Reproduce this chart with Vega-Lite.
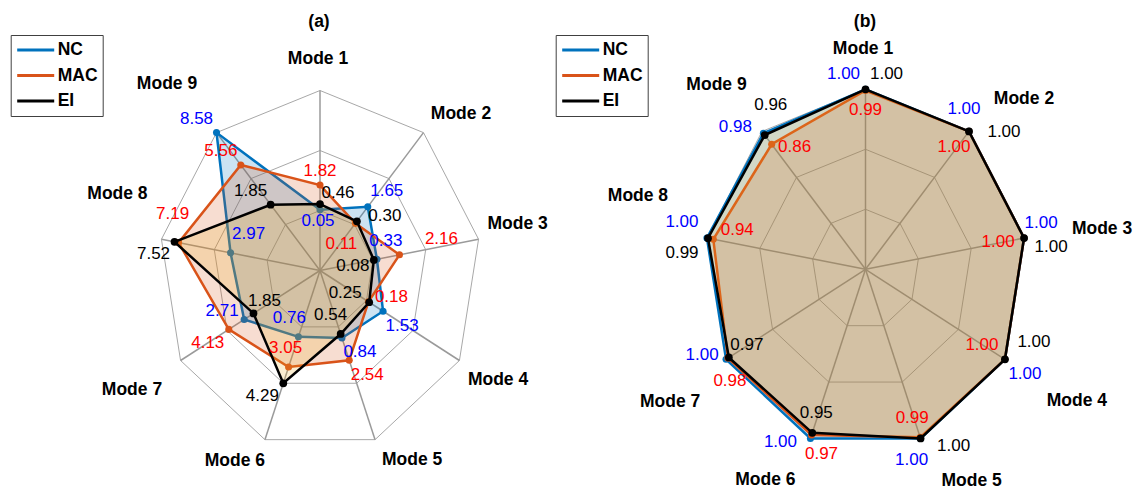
{
"$schema":"https://vega.github.io/schema/vega-lite/v6.json",
"padding":{"left":0,"top":12,"right":0,"bottom":0},
"background":"white",
"bounds":"flush",
"spacing":0,
"config":{"view":{"stroke":null},"font":"Liberation Sans","text":{"font":"Liberation Sans","fontSize":17,"align":"center","baseline":"middle"}},
"datasets":{
"vals":[
{"p":"a","m":1,"s":"NC","v":0.05},{"p":"a","m":1,"s":"MAC","v":1.82},{"p":"a","m":1,"s":"EI","v":0.46},
{"p":"a","m":2,"s":"NC","v":1.65},{"p":"a","m":2,"s":"MAC","v":0.11},{"p":"a","m":2,"s":"EI","v":0.30},
{"p":"a","m":3,"s":"NC","v":0.33},{"p":"a","m":3,"s":"MAC","v":2.16},{"p":"a","m":3,"s":"EI","v":0.08},
{"p":"a","m":4,"s":"NC","v":1.53},{"p":"a","m":4,"s":"MAC","v":0.18},{"p":"a","m":4,"s":"EI","v":0.25},
{"p":"a","m":5,"s":"NC","v":0.84},{"p":"a","m":5,"s":"MAC","v":2.54},{"p":"a","m":5,"s":"EI","v":0.54},
{"p":"a","m":6,"s":"NC","v":0.76},{"p":"a","m":6,"s":"MAC","v":3.05},{"p":"a","m":6,"s":"EI","v":4.29},
{"p":"a","m":7,"s":"NC","v":2.71},{"p":"a","m":7,"s":"MAC","v":4.13},{"p":"a","m":7,"s":"EI","v":1.85},
{"p":"a","m":8,"s":"NC","v":2.97},{"p":"a","m":8,"s":"MAC","v":7.19},{"p":"a","m":8,"s":"EI","v":7.52},
{"p":"a","m":9,"s":"NC","v":8.58},{"p":"a","m":9,"s":"MAC","v":5.56},{"p":"a","m":9,"s":"EI","v":1.85},
{"p":"b","m":1,"s":"NC","v":1.00},{"p":"b","m":1,"s":"MAC","v":0.99},{"p":"b","m":1,"s":"EI","v":1.00},
{"p":"b","m":2,"s":"NC","v":1.00},{"p":"b","m":2,"s":"MAC","v":1.00},{"p":"b","m":2,"s":"EI","v":1.00},
{"p":"b","m":3,"s":"NC","v":1.00},{"p":"b","m":3,"s":"MAC","v":1.00},{"p":"b","m":3,"s":"EI","v":1.00},
{"p":"b","m":4,"s":"NC","v":1.00},{"p":"b","m":4,"s":"MAC","v":1.00},{"p":"b","m":4,"s":"EI","v":1.00},
{"p":"b","m":5,"s":"NC","v":1.00},{"p":"b","m":5,"s":"MAC","v":0.99},{"p":"b","m":5,"s":"EI","v":1.00},
{"p":"b","m":6,"s":"NC","v":1.00},{"p":"b","m":6,"s":"MAC","v":0.97},{"p":"b","m":6,"s":"EI","v":0.95},
{"p":"b","m":7,"s":"NC","v":1.00},{"p":"b","m":7,"s":"MAC","v":0.98},{"p":"b","m":7,"s":"EI","v":0.97},
{"p":"b","m":8,"s":"NC","v":1.00},{"p":"b","m":8,"s":"MAC","v":0.94},{"p":"b","m":8,"s":"EI","v":0.99},
{"p":"b","m":9,"s":"NC","v":0.98},{"p":"b","m":9,"s":"MAC","v":0.86},{"p":"b","m":9,"s":"EI","v":0.96}
],
"modes":[
{"m":1,"name":"Mode 1","lv":[1,2,3]},{"m":2,"name":"Mode 2","lv":[1,2,3]},{"m":3,"name":"Mode 3","lv":[1,2,3]},
{"m":4,"name":"Mode 4","lv":[1,2,3]},{"m":5,"name":"Mode 5","lv":[1,2,3]},{"m":6,"name":"Mode 6","lv":[1,2,3]},
{"m":7,"name":"Mode 7","lv":[1,2,3]},{"m":8,"name":"Mode 8","lv":[1,2,3]},{"m":9,"name":"Mode 9","lv":[1,2,3]}
]
},
"resolve":{"scale":{"x":"independent","y":"independent","color":"independent","fill":"independent"},"legend":{"color":"independent"}},
"hconcat":[
{
"title":{"text":"(a)","fontSize":17.5,"fontWeight":"bold","font":"Liberation Sans","anchor":"middle","dx":44,"offset":4,"color":"black"},
"width":550,"height":459,
"encoding":{
"x":{"field":"x","type":"quantitative","scale":{"domain":[-1.98758,1.42857],"nice":false,"zero":false},"axis":null},
"y":{"field":"y","type":"quantitative","scale":{"domain":[-1.2361,1.3139],"nice":false,"zero":false},"axis":null}
},
"layer":[
{"data":{"name":"modes"},
"transform":[{"flatten":["lv"]},{"calculate":"datum.lv/3*sin((datum.m-1)*2*PI/9)","as":"x"},{"calculate":"datum.lv/3*cos((datum.m-1)*2*PI/9)","as":"y"}],
"layer":[
{"mark":{"type":"line","interpolate":"linear-closed","color":"#a8a8a8","strokeWidth":1},"encoding":{"detail":{"field":"lv"},"order":{"field":"m"}}},
{"transform":[{"filter":"datum.lv==3"}],"mark":{"type":"rule","color":"#9a9a9a","strokeWidth":1.5},"encoding":{"x2":{"datum":0},"y2":{"datum":0}}},
{"transform":[{"filter":"datum.lv==3"}],"encoding":{"text":{"field":"name"}},"layer":[
{"transform":[{"filter":"datum.m==1"}],"mark":{"type":"text","fontWeight":"bold","fontSize":17.5,"dx":-2,"dy":-31.5}},
{"transform":[{"filter":"datum.m==2"}],"mark":{"type":"text","fontWeight":"bold","fontSize":17.5,"dx":37.5,"dy":-18.6}},
{"transform":[{"filter":"datum.m==3"}],"mark":{"type":"text","fontWeight":"bold","fontSize":17.5,"dx":39.1,"dy":-15.2}},
{"transform":[{"filter":"datum.m==4"}],"mark":{"type":"text","fontWeight":"bold","fontSize":17.5,"dx":38.6,"dy":19.8}},
{"transform":[{"filter":"datum.m==5"}],"mark":{"type":"text","fontWeight":"bold","fontSize":17.5,"dx":37,"dy":20}},
{"transform":[{"filter":"datum.m==6"}],"mark":{"type":"text","fontWeight":"bold","fontSize":17.5,"dx":-30,"dy":21}},
{"transform":[{"filter":"datum.m==7"}],"mark":{"type":"text","fontWeight":"bold","fontSize":17.5,"dx":-48.6,"dy":29.8}},
{"transform":[{"filter":"datum.m==8"}],"mark":{"type":"text","fontWeight":"bold","fontSize":17.5,"dx":-44,"dy":-45}},
{"transform":[{"filter":"datum.m==9"}],"mark":{"type":"text","fontWeight":"bold","fontSize":17.5,"dx":-49.5,"dy":-48.6}}
]}
]},
{"data":{"name":"vals"},
"transform":[{"filter":"datum.p=='a'"},{"calculate":"(datum.v+4.29)/12.87","as":"f"},{"calculate":"datum.f*sin((datum.m-1)*2*PI/9)","as":"x"},{"calculate":"datum.f*cos((datum.m-1)*2*PI/9)","as":"y"}],
"layer":[
{"transform":[{"filter":"datum.s=='NC'"}],"mark":{"type":"line","interpolate":"linear-closed","fill":"#0072BD","fillOpacity":0.2,"strokeWidth":2.5},
 "encoding":{"order":{"field":"m"},"color":{"field":"s","type":"nominal","scale":{"domain":["NC","MAC","EI"],"range":["#0072BD","#D95319","#000000"]},
 "legend":{"orient":"none","legendX":10.7,"legendY":1,"title":null,"symbolType":"stroke","symbolSize":1369,"symbolStrokeWidth":3,"clipHeight":20,"rowPadding":5.5,"padding":5,"labelFontSize":17.5,"labelFontWeight":"bold","labelFont":"Liberation Sans","labelColor":"black","strokeColor":"#404040","fillColor":"white","labelOffset":2,"symbolOffset":0}}}},
{"transform":[{"filter":"datum.s=='NC'"}],"mark":{"type":"point","filled":true,"color":"#0072BD","size":50,"opacity":1}},
{"transform":[{"filter":"datum.s=='MAC'"}],"mark":{"type":"line","interpolate":"linear-closed","fill":"#D95319","fillOpacity":0.2,"strokeWidth":2.5},
 "encoding":{"order":{"field":"m"},"color":{"field":"s","type":"nominal","scale":{"domain":["NC","MAC","EI"],"range":["#0072BD","#D95319","#000000"]}}}},
{"transform":[{"filter":"datum.s=='MAC'"}],"mark":{"type":"point","filled":true,"color":"#D95319","size":50,"opacity":1}},
{"transform":[{"filter":"datum.s=='EI'"}],"mark":{"type":"line","interpolate":"linear-closed","fill":"#EDB120","fillOpacity":0.2,"strokeWidth":2.5},
 "encoding":{"order":{"field":"m"},"color":{"field":"s","type":"nominal","scale":{"domain":["NC","MAC","EI"],"range":["#0072BD","#D95319","#000000"]}}}},
{"transform":[{"filter":"datum.s=='EI'"}],"mark":{"type":"point","filled":true,"color":"#000000","size":60,"opacity":1}},
{"encoding":{"text":{"field":"v","type":"quantitative","format":".2f"},"fill":{"field":"s","type":"nominal","scale":{"domain":["NC","MAC","EI"],"range":["#0000FF","#FF0000","#000000"]},"legend":null}},
"layer":[
{"transform":[{"filter":"datum.s=='NC'&&datum.m==1"}],"mark":{"type":"text","dx":-2,"dy":11}},
{"transform":[{"filter":"datum.s=='NC'&&datum.m==2"}],"mark":{"type":"text","dx":19,"dy":-16}},
{"transform":[{"filter":"datum.s=='NC'&&datum.m==3"}],"mark":{"type":"text","dx":9,"dy":-18}},
{"transform":[{"filter":"datum.s=='NC'&&datum.m==4"}],"mark":{"type":"text","dx":19,"dy":15}},
{"transform":[{"filter":"datum.s=='NC'&&datum.m==5"}],"mark":{"type":"text","dx":18,"dy":14}},
{"transform":[{"filter":"datum.s=='NC'&&datum.m==6"}],"mark":{"type":"text","dx":-9,"dy":-19}},
{"transform":[{"filter":"datum.s=='NC'&&datum.m==7"}],"mark":{"type":"text","dx":-22,"dy":-8}},
{"transform":[{"filter":"datum.s=='NC'&&datum.m==8"}],"mark":{"type":"text","dx":18,"dy":-19}},
{"transform":[{"filter":"datum.s=='NC'&&datum.m==9"}],"mark":{"type":"text","dx":-20,"dy":-14}},
{"transform":[{"filter":"datum.s=='MAC'&&datum.m==1"}],"mark":{"type":"text","dx":0,"dy":-14}},
{"transform":[{"filter":"datum.s=='MAC'&&datum.m==2"}],"mark":{"type":"text","dx":-14,"dy":21}},
{"transform":[{"filter":"datum.s=='MAC'&&datum.m==3"}],"mark":{"type":"text","dx":42,"dy":-16}},
{"transform":[{"filter":"datum.s=='MAC'&&datum.m==4"}],"mark":{"type":"text","dx":23,"dy":-5}},
{"transform":[{"filter":"datum.s=='MAC'&&datum.m==5"}],"mark":{"type":"text","dx":18,"dy":15}},
{"transform":[{"filter":"datum.s=='MAC'&&datum.m==6"}],"mark":{"type":"text","dx":-3,"dy":-19}},
{"transform":[{"filter":"datum.s=='MAC'&&datum.m==7"}],"mark":{"type":"text","dx":-21,"dy":14}},
{"transform":[{"filter":"datum.s=='MAC'&&datum.m==8"}],"mark":{"type":"text","dx":-6,"dy":-29}},
{"transform":[{"filter":"datum.s=='MAC'&&datum.m==9"}],"mark":{"type":"text","dx":-20,"dy":-14}},
{"transform":[{"filter":"datum.s=='EI'&&datum.m==1"}],"mark":{"type":"text","dx":18,"dy":-11}},
{"transform":[{"filter":"datum.s=='EI'&&datum.m==2"}],"mark":{"type":"text","dx":28,"dy":-5}},
{"transform":[{"filter":"datum.s=='EI'&&datum.m==3"}],"mark":{"type":"text","dx":-21,"dy":6}},
{"transform":[{"filter":"datum.s=='EI'&&datum.m==4"}],"mark":{"type":"text","dx":-24,"dy":-9}},
{"transform":[{"filter":"datum.s=='EI'&&datum.m==5"}],"mark":{"type":"text","dx":-10,"dy":-19}},
{"transform":[{"filter":"datum.s=='EI'&&datum.m==6"}],"mark":{"type":"text","dx":-21,"dy":13}},
{"transform":[{"filter":"datum.s=='EI'&&datum.m==7"}],"mark":{"type":"text","dx":11,"dy":-12}},
{"transform":[{"filter":"datum.s=='EI'&&datum.m==8"}],"mark":{"type":"text","dx":-21,"dy":12}},
{"transform":[{"filter":"datum.s=='EI'&&datum.m==9"}],"mark":{"type":"text","dx":-20,"dy":-14}}
]}
]}
]
},
{
"title":{"text":"(b)","fontSize":17.5,"fontWeight":"bold","font":"Liberation Sans","anchor":"middle","dx":22,"offset":4,"color":"black"},
"width":586,"height":459,
"encoding":{
"x":{"field":"x","type":"quantitative","scale":{"domain":[-1.95963,1.68012],"nice":false,"zero":false},"axis":null},
"y":{"field":"y","type":"quantitative","scale":{"domain":[-1.2428,1.3072],"nice":false,"zero":false},"axis":null}
},
"layer":[
{"data":{"name":"modes"},
"transform":[{"flatten":["lv"]},{"calculate":"datum.lv/3*sin((datum.m-1)*2*PI/9)","as":"x"},{"calculate":"datum.lv/3*cos((datum.m-1)*2*PI/9)","as":"y"}],
"layer":[
{"mark":{"type":"line","interpolate":"linear-closed","color":"#a8a8a8","strokeWidth":1},"encoding":{"detail":{"field":"lv"},"order":{"field":"m"}}},
{"transform":[{"filter":"datum.lv==3"}],"mark":{"type":"rule","color":"#9a9a9a","strokeWidth":1.5},"encoding":{"x2":{"datum":0},"y2":{"datum":0}}},
{"transform":[{"filter":"datum.lv==3"}],"encoding":{"text":{"field":"name"}},"layer":[
{"transform":[{"filter":"datum.m==1"}],"mark":{"type":"text","fontWeight":"bold","fontSize":17.5,"dx":-2.5,"dy":-40}},
{"transform":[{"filter":"datum.m==2"}],"mark":{"type":"text","fontWeight":"bold","fontSize":17.5,"dx":55,"dy":-32}},
{"transform":[{"filter":"datum.m==3"}],"mark":{"type":"text","fontWeight":"bold","fontSize":17.5,"dx":78,"dy":-9}},
{"transform":[{"filter":"datum.m==4"}],"mark":{"type":"text","fontWeight":"bold","fontSize":17.5,"dx":72,"dy":42}},
{"transform":[{"filter":"datum.m==5"}],"mark":{"type":"text","fontWeight":"bold","fontSize":17.5,"dx":51,"dy":42.5}},
{"transform":[{"filter":"datum.m==6"}],"mark":{"type":"text","fontWeight":"bold","fontSize":17.5,"dx":-45,"dy":42}},
{"transform":[{"filter":"datum.m==7"}],"mark":{"type":"text","fontWeight":"bold","fontSize":17.5,"dx":-56,"dy":43}},
{"transform":[{"filter":"datum.m==8"}],"mark":{"type":"text","fontWeight":"bold","fontSize":17.5,"dx":-69,"dy":-42}},
{"transform":[{"filter":"datum.m==9"}],"mark":{"type":"text","fontWeight":"bold","fontSize":17.5,"dx":-45.5,"dy":-46}}
]}
]},
{"data":{"name":"vals"},
"transform":[{"filter":"datum.p=='b'"},{"calculate":"(datum.v+0.5)/1.5","as":"f"},{"calculate":"datum.f*sin((datum.m-1)*2*PI/9)","as":"x"},{"calculate":"datum.f*cos((datum.m-1)*2*PI/9)","as":"y"}],
"layer":[
{"transform":[{"filter":"datum.s=='NC'"}],"mark":{"type":"line","interpolate":"linear-closed","fill":"#0072BD","fillOpacity":0.2,"strokeWidth":2.5},
 "encoding":{"order":{"field":"m"},"color":{"field":"s","type":"nominal","scale":{"domain":["NC","MAC","EI"],"range":["#0072BD","#D95319","#000000"]},
 "legend":{"orient":"none","legendX":5.7,"legendY":1,"title":null,"symbolType":"stroke","symbolSize":1369,"symbolStrokeWidth":3,"clipHeight":20,"rowPadding":5.5,"padding":5,"labelFontSize":17.5,"labelFontWeight":"bold","labelFont":"Liberation Sans","labelColor":"black","strokeColor":"#404040","fillColor":"white","labelOffset":2,"symbolOffset":0}}}},
{"transform":[{"filter":"datum.s=='NC'"}],"mark":{"type":"point","filled":true,"color":"#0072BD","size":50,"opacity":1}},
{"transform":[{"filter":"datum.s=='MAC'"}],"mark":{"type":"line","interpolate":"linear-closed","fill":"#D95319","fillOpacity":0.2,"strokeWidth":2.5},
 "encoding":{"order":{"field":"m"},"color":{"field":"s","type":"nominal","scale":{"domain":["NC","MAC","EI"],"range":["#0072BD","#D95319","#000000"]}}}},
{"transform":[{"filter":"datum.s=='MAC'"}],"mark":{"type":"point","filled":true,"color":"#D95319","size":50,"opacity":1}},
{"transform":[{"filter":"datum.s=='EI'"}],"mark":{"type":"line","interpolate":"linear-closed","fill":"#EDB120","fillOpacity":0.2,"strokeWidth":2.5},
 "encoding":{"order":{"field":"m"},"color":{"field":"s","type":"nominal","scale":{"domain":["NC","MAC","EI"],"range":["#0072BD","#D95319","#000000"]}}}},
{"transform":[{"filter":"datum.s=='EI'"}],"mark":{"type":"point","filled":true,"color":"#000000","size":60,"opacity":1}},
{"encoding":{"text":{"field":"v","type":"quantitative","format":".2f"},"fill":{"field":"s","type":"nominal","scale":{"domain":["NC","MAC","EI"],"range":["#0000FF","#FF0000","#000000"]},"legend":null}},
"layer":[
{"transform":[{"filter":"datum.s=='NC'&&datum.m==1"}],"mark":{"type":"text","dx":-22,"dy":-15}},
{"transform":[{"filter":"datum.s=='NC'&&datum.m==2"}],"mark":{"type":"text","dx":-5,"dy":-22}},
{"transform":[{"filter":"datum.s=='NC'&&datum.m==3"}],"mark":{"type":"text","dx":17,"dy":-15}},
{"transform":[{"filter":"datum.s=='NC'&&datum.m==4"}],"mark":{"type":"text","dx":20,"dy":15}},
{"transform":[{"filter":"datum.s=='NC'&&datum.m==5"}],"mark":{"type":"text","dx":-9,"dy":22}},
{"transform":[{"filter":"datum.s=='NC'&&datum.m==6"}],"mark":{"type":"text","dx":-30,"dy":4}},
{"transform":[{"filter":"datum.s=='NC'&&datum.m==7"}],"mark":{"type":"text","dx":-24,"dy":-4}},
{"transform":[{"filter":"datum.s=='NC'&&datum.m==8"}],"mark":{"type":"text","dx":-25,"dy":-16}},
{"transform":[{"filter":"datum.s=='NC'&&datum.m==9"}],"mark":{"type":"text","dx":-28,"dy":-6}},
{"transform":[{"filter":"datum.s=='MAC'&&datum.m==1"}],"mark":{"type":"text","dx":0,"dy":20}},
{"transform":[{"filter":"datum.s=='MAC'&&datum.m==2"}],"mark":{"type":"text","dx":-15,"dy":16}},
{"transform":[{"filter":"datum.s=='MAC'&&datum.m==3"}],"mark":{"type":"text","dx":-26,"dy":4}},
{"transform":[{"filter":"datum.s=='MAC'&&datum.m==4"}],"mark":{"type":"text","dx":-23,"dy":-14}},
{"transform":[{"filter":"datum.s=='MAC'&&datum.m==5"}],"mark":{"type":"text","dx":-8,"dy":-19}},
{"transform":[{"filter":"datum.s=='MAC'&&datum.m==6"}],"mark":{"type":"text","dx":10,"dy":19}},
{"transform":[{"filter":"datum.s=='MAC'&&datum.m==7"}],"mark":{"type":"text","dx":2,"dy":23}},
{"transform":[{"filter":"datum.s=='MAC'&&datum.m==8"}],"mark":{"type":"text","dx":24,"dy":-9}},
{"transform":[{"filter":"datum.s=='MAC'&&datum.m==9"}],"mark":{"type":"text","dx":23,"dy":3}},
{"transform":[{"filter":"datum.s=='EI'&&datum.m==1"}],"mark":{"type":"text","dx":21,"dy":-15}},
{"transform":[{"filter":"datum.s=='EI'&&datum.m==2"}],"mark":{"type":"text","dx":35,"dy":1}},
{"transform":[{"filter":"datum.s=='EI'&&datum.m==3"}],"mark":{"type":"text","dx":27,"dy":9}},
{"transform":[{"filter":"datum.s=='EI'&&datum.m==4"}],"mark":{"type":"text","dx":29,"dy":-17}},
{"transform":[{"filter":"datum.s=='EI'&&datum.m==5"}],"mark":{"type":"text","dx":33,"dy":8}},
{"transform":[{"filter":"datum.s=='EI'&&datum.m==6"}],"mark":{"type":"text","dx":4,"dy":-20}},
{"transform":[{"filter":"datum.s=='EI'&&datum.m==7"}],"mark":{"type":"text","dx":18,"dy":-12}},
{"transform":[{"filter":"datum.s=='EI'&&datum.m==8"}],"mark":{"type":"text","dx":-26,"dy":15}},
{"transform":[{"filter":"datum.s=='EI'&&datum.m==9"}],"mark":{"type":"text","dx":6,"dy":-30}}
]}
]}
]
}
]
}
